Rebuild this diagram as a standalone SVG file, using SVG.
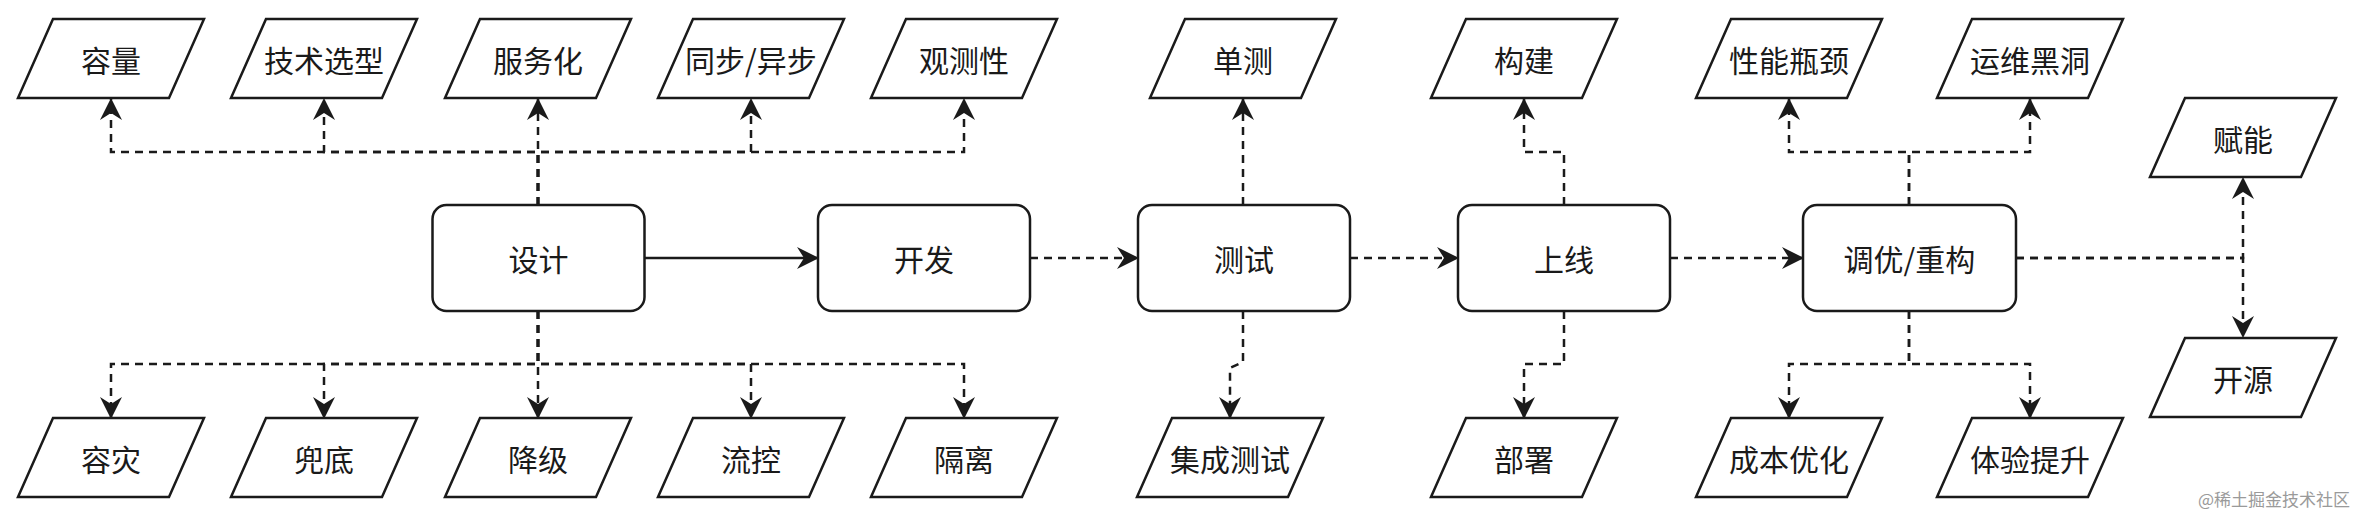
<svg xmlns="http://www.w3.org/2000/svg" width="2356" height="516" viewBox="0 0 2356 516">
<style>
.bg{fill:#ffffff}
.box{fill:#ffffff;stroke:#1a1a1a;stroke-width:2.5}
.io{fill:#ffffff;stroke:#1a1a1a;stroke-width:2.5;stroke-linejoin:miter}
.t{font-family:"Noto Sans CJK SC","Noto Sans",sans-serif;font-size:30px;fill:#1a1a1a;text-anchor:middle;dominant-baseline:central}
.e{fill:none;stroke:#1a1a1a;stroke-width:2.5;marker-end:url(#arr)}
.d{stroke-dasharray:8 6}
.wm{font-family:"Noto Sans CJK SC",sans-serif;font-size:17px;fill:#9a9a9a;text-anchor:end}
</style>
<defs>
<marker id="arr" viewBox="0 0 22 22" refX="21" refY="11" markerWidth="22" markerHeight="22" markerUnits="userSpaceOnUse" orient="auto">
<path d="M0,0 L22,11 L0,22 L7,11 Z" fill="#1a1a1a"/>
</marker>
<path id="pg" d="M35,0 H186 L151,79 H0 Z"/>
</defs>
<rect class="bg" x="0" y="0" width="2356" height="516"/>

<g id="connectors">
<!-- main flow -->
<path class="e" d="M644.5,258 H818"/>
<path class="e d" d="M1030,258 H1138"/>
<path class="e d" d="M1350,258 H1458"/>
<path class="e d" d="M1670,258 H1803"/>
<!-- design up -->
<path class="e d" d="M538,205 V152 H111 V99"/>
<path class="e d" d="M538,205 V152 H324 V99"/>
<path class="e d" d="M538,205 V99"/>
<path class="e d" d="M538,205 V152 H751 V99"/>
<path class="e d" d="M538,205 V152 H964 V99"/>
<!-- design down -->
<path class="e d" d="M538,311 V364 H111 V418"/>
<path class="e d" d="M538,311 V364 H324 V418"/>
<path class="e d" d="M538,311 V418"/>
<path class="e d" d="M538,311 V364 H751 V418"/>
<path class="e d" d="M538,311 V364 H964 V418"/>
<!-- test -->
<path class="e d" d="M1243,205 V99"/>
<path class="e d" d="M1243,311 V362 L1230,368 V418"/>
<!-- online -->
<path class="e d" d="M1564,205 V152 H1524 V99"/>
<path class="e d" d="M1564,311 V364 H1524 V418"/>
<!-- tune -->
<path class="e d" d="M1909,205 V152 H1789 V99"/>
<path class="e d" d="M1909,205 V152 H2030 V99"/>
<path class="e d" d="M1909,311 V364 H1789 V418"/>
<path class="e d" d="M1909,311 V364 H2030 V418"/>
<path class="e d" d="M2016,258 H2243 V178"/>
<path class="e d" d="M2016,258 H2243 V337"/>
</g>

<g id="n-design"><rect class="box" x="432.5" y="205" width="212" height="106" rx="14"/><text class="t" x="538.5" y="258">设计</text></g>
<g id="n-dev"><rect class="box" x="818" y="205" width="212" height="106" rx="14"/><text class="t" x="924" y="258">开发</text></g>
<g id="n-test"><rect class="box" x="1138" y="205" width="212" height="106" rx="14"/><text class="t" x="1244" y="258">测试</text></g>
<g id="n-online"><rect class="box" x="1458" y="205" width="212" height="106" rx="14"/><text class="t" x="1564" y="258">上线</text></g>
<g id="n-tune"><rect class="box" x="1803" y="205" width="213" height="106" rx="14"/><text class="t" x="1909.5" y="258">调优/重构</text></g>

<g id="n-capacity"><use href="#pg" class="io" x="18" y="19"/><text class="t" x="111" y="58.5">容量</text></g>
<g id="n-tech"><use href="#pg" class="io" x="231" y="19"/><text class="t" x="324" y="58.5">技术选型</text></g>
<g id="n-service"><use href="#pg" class="io" x="445" y="19"/><text class="t" x="538" y="58.5">服务化</text></g>
<g id="n-sync"><use href="#pg" class="io" x="658" y="19"/><text class="t" x="751" y="58.5">同步/异步</text></g>
<g id="n-observe"><use href="#pg" class="io" x="871" y="19"/><text class="t" x="964" y="58.5">观测性</text></g>
<g id="n-unit"><use href="#pg" class="io" x="1150" y="19"/><text class="t" x="1243" y="58.5">单测</text></g>
<g id="n-build"><use href="#pg" class="io" x="1431" y="19"/><text class="t" x="1524" y="58.5">构建</text></g>
<g id="n-perf"><use href="#pg" class="io" x="1696" y="19"/><text class="t" x="1789" y="58.5">性能瓶颈</text></g>
<g id="n-ops"><use href="#pg" class="io" x="1937" y="19"/><text class="t" x="2030" y="58.5">运维黑洞</text></g>
<g id="n-empower"><use href="#pg" class="io" x="2150" y="98"/><text class="t" x="2243" y="137.5">赋能</text></g>
<g id="n-opensource"><use href="#pg" class="io" x="2150" y="338"/><text class="t" x="2243" y="377.5">开源</text></g>

<g id="n-dr"><use href="#pg" class="io" x="18" y="418"/><text class="t" x="111" y="457.5">容灾</text></g>
<g id="n-fallback"><use href="#pg" class="io" x="231" y="418"/><text class="t" x="324" y="457.5">兜底</text></g>
<g id="n-degrade"><use href="#pg" class="io" x="445" y="418"/><text class="t" x="538" y="457.5">降级</text></g>
<g id="n-flow"><use href="#pg" class="io" x="658" y="418"/><text class="t" x="751" y="457.5">流控</text></g>
<g id="n-isolate"><use href="#pg" class="io" x="871" y="418"/><text class="t" x="964" y="457.5">隔离</text></g>
<g id="n-integration"><use href="#pg" class="io" x="1137" y="418"/><text class="t" x="1230" y="457.5">集成测试</text></g>
<g id="n-deploy"><use href="#pg" class="io" x="1431" y="418"/><text class="t" x="1524" y="457.5">部署</text></g>
<g id="n-cost"><use href="#pg" class="io" x="1696" y="418"/><text class="t" x="1789" y="457.5">成本优化</text></g>
<g id="n-ux"><use href="#pg" class="io" x="1937" y="418"/><text class="t" x="2030" y="457.5">体验提升</text></g>

<text class="wm" x="2350" y="506">@稀土掘金技术社区</text>
</svg>
